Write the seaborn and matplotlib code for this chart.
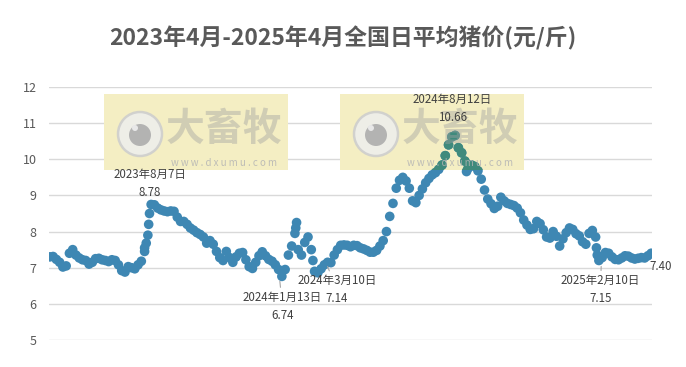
import numpy as np
import pandas as pd
import matplotlib
matplotlib.use('Agg')
import matplotlib.pyplot as plt
import matplotlib.patches as mpatches
import seaborn as sns

# 全国日平均猪价(元/斤), 每4天取一个点
start_date = '2023-04-07'
step_days = 4
prices = [
    7.30, 7.31, 7.23, 7.15, 7.02, 7.05, 7.40, 7.50, 7.35, 7.27,
    7.22, 7.20, 7.10, 7.15, 7.25, 7.26, 7.22, 7.20, 7.17, 7.22,
    7.20, 7.08, 6.92, 6.88, 7.03, 7.00, 6.97, 7.08, 7.18, 7.45,
    7.90, 8.75, 8.74, 8.65, 8.60, 8.57, 8.55, 8.57, 8.56, 8.40,
    8.28, 8.28, 8.20, 8.10, 8.04, 7.97, 7.92, 7.85, 7.68, 7.75,
    7.65, 7.45, 7.28, 7.20, 7.45, 7.28, 7.15, 7.30, 7.40, 7.42,
    7.22, 7.03, 6.98, 7.15, 7.33, 7.44, 7.33, 7.23, 7.18, 7.08,
    6.95, 6.76, 6.95, 7.35, 7.60, 7.95, 7.50, 7.35, 7.70, 7.85,
    7.50, 6.90, 6.86, 6.97, 7.08, 7.15, 7.14, 7.35, 7.50, 7.62,
    7.63, 7.62, 7.58, 7.62, 7.61, 7.55, 7.52, 7.48, 7.43, 7.43,
    7.48, 7.60, 7.75, 8.00, 8.42, 8.78, 9.20, 9.42, 9.50, 9.40,
    9.20, 8.85, 8.80, 9.00, 9.18, 9.35, 9.47, 9.57, 9.63, 9.72,
    9.84, 10.10, 10.40, 10.62, 10.66, 10.32, 10.18, 9.95, 9.75, 9.84,
    9.80, 9.68, 9.45, 9.15, 8.90, 8.77, 8.64, 8.70, 8.95, 8.85,
    8.78, 8.75, 8.72, 8.65, 8.52, 8.32, 8.18, 8.06, 8.08, 8.28,
    8.22, 8.05, 7.85, 7.82, 8.00, 7.87, 7.60, 7.80, 7.97, 8.10,
    8.06, 7.94, 7.88, 7.72, 7.65, 7.95, 8.03, 7.85, 7.20, 7.28,
    7.42, 7.40, 7.30, 7.23, 7.22, 7.27, 7.33, 7.32, 7.27, 7.24,
    7.26, 7.28, 7.27, 7.33, 7.40,
]

# 急涨急跌处的补充点
extra_dates = ['2023-08-01', '2023-08-03', '2023-08-06', '2023-08-07',
               '2024-02-02', '2024-02-03', '2024-02-23', '2024-08-29',
               '2025-02-04', '2025-02-05']
extra_prices = [7.55, 7.68, 8.20, 8.50, 8.10, 8.25, 7.20, 9.66, 7.55, 7.35]

# 标注
note_dates = ['2023-08-07', '2024-01-13', '2024-03-10', '2024-08-12', '2025-02-10']
note_values = [8.78, 6.74, 7.14, 10.66, 7.15]
note_offsets = [(0, 20), (3, -29), (11, -27), (0, 27), (-1, -27)]
note_lines = [False, True, True, False, True]

dates = pd.date_range(start_date, periods=len(prices), freq=f'{step_days}D')
df = pd.concat([
    pd.DataFrame({'date': dates, 'price': prices}),
    pd.DataFrame({'date': pd.to_datetime(extra_dates), 'price': extra_prices}),
]).sort_values('date')

sns.set_theme(style='white')
plt.rcParams['font.family'] = ['Noto Sans CJK SC', 'DejaVu Sans']

W, H = 686, 367
fig = plt.figure(figsize=(W / 100, H / 100), dpi=100)
ax = fig.add_axes([49 / W, 1 - 340 / H, (652 - 49) / W, (340 - 87) / H])

blue = '#3e87b3'
teal = '#3f8a7c'
gray_text = '#595959'


def fx(px):
    return px / W


def fy(py):
    return 1 - py / H


# 水印底框 (在点的下面)
boxes = []
for x0 in [104, 340]:
    rect = mpatches.Rectangle((fx(x0), fy(170)), fx(184), 76 / H,
                              facecolor='#f4eec3', edgecolor='none',
                              transform=fig.transFigure, zorder=1)
    ax.add_artist(rect)
    rect.set_clip_on(False)
    boxes.append(rect)

sns.scatterplot(data=df, x='date', y='price', ax=ax, color=blue, s=48,
                edgecolor='none', legend=False, zorder=3)

# 水印框内的点偏绿
for rect in boxes:
    sns.scatterplot(data=df, x='date', y='price', ax=ax, color=teal, s=48,
                    edgecolor='none', legend=False, zorder=3.5)
    ax.collections[-1].set_clip_path(rect)

ax.set_ylim(5, 12)
ax.set_yticks(range(5, 13))
ax.set_xlim(dates[0] - pd.Timedelta(days=1), dates[-1] + pd.Timedelta(days=1))
ax.set_xticks([])
ax.set_xlabel('')
ax.set_ylabel('')
ax.grid(axis='y', color='#d9d9d9', linewidth=1)
ax.set_axisbelow(True)
for s in ax.spines.values():
    s.set_visible(False)
ax.tick_params(axis='y', length=0, pad=9, labelsize=9, labelcolor=gray_text)

fig.text(0.5, 1 - 38 / H, '2023年4月-2025年4月全国日平均猪价(元/斤)', ha='center',
         va='center', fontsize=16.5, fontweight='bold', color=gray_text)

# 水印图标和文字 (在点的上面, 半透明)
for x0 in [104, 340]:
    cx, cy = x0 + 36, 134
    ax.add_artist(mpatches.Ellipse((fx(cx), fy(cy)), 44 / W, 44 / H,
                                   facecolor='#eeeeee', edgecolor='#cccccc',
                                   linewidth=1.8, alpha=0.85, zorder=4,
                                   transform=fig.transFigure, clip_on=False))
    ax.add_artist(mpatches.Ellipse((fx(cx), fy(cy + 1)), 22 / W, 22 / H,
                                   facecolor='#adadad', edgecolor='none',
                                   alpha=0.9, zorder=4.1,
                                   transform=fig.transFigure, clip_on=False))
    ax.add_artist(mpatches.Ellipse((fx(cx - 5), fy(cy - 6)), 6 / W, 6 / H,
                                   facecolor='#e8e8e8', edgecolor='none',
                                   zorder=4.2, transform=fig.transFigure,
                                   clip_on=False))
    ax.text(fx(x0 + 120), fy(129), '大畜牧', ha='center', va='center',
            fontsize=28, fontweight='bold', color='#a0a0a0', alpha=0.42,
            zorder=4.3, transform=fig.transFigure, clip_on=False)
    ax.text(fx(x0 + 120), fy(163), 'w w w . d x u m u . c o m', ha='center',
            va='center', fontsize=7, color='#b4b4b4', alpha=0.85,
            zorder=4.3, transform=fig.transFigure, clip_on=False)

for d, v, off, line in zip(note_dates, note_values, note_offsets, note_lines):
    dt = pd.Timestamp(d)
    lbl = f'{dt.year}年{dt.month}月{dt.day}日\n{v:.2f}'
    ax.annotate(lbl, xy=(dt, v), xytext=off, textcoords='offset pixels',
                ha='center', va='center', fontsize=8.3, color='#404040',
                linespacing=1.5, zorder=6, annotation_clip=False,
                arrowprops=dict(arrowstyle='-', color='#a6a6a6', lw=0.8,
                                shrinkA=14, shrinkB=3) if line else None)

ax.annotate(f'{prices[-1]:.2f}', xy=(dates[-1], prices[-1]), xytext=(9, -13),
            textcoords='offset pixels', ha='center', va='center',
            fontsize=8.3, color='#404040', annotation_clip=False, zorder=6)

fig.savefig('out.png', dpi=100)
